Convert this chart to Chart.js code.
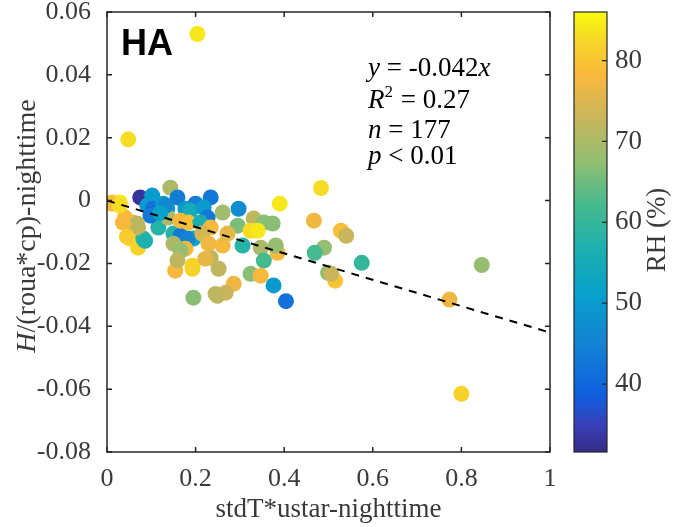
<!DOCTYPE html>
<html>
<head>
<meta charset="utf-8">
<script src="https://cdn.jsdelivr.net/npm/chart.js@4/dist/chart.umd.min.js"></script>
<style>
  html, body { margin: 0; padding: 0; background: #fff; }
  #wrap { width: 674px; height: 527px; }
</style>
</head>
<body>
<div id="wrap"><canvas id="scatter"></canvas></div>
<script>
// values
var stdTUstar = [0.204,0.048,0.800,0.773,0.846,0.575,0.404,0.376,0.515,0.499,0.506,0.490,0.469,0.467,0.483,0.390,0.528,0.540,
  0.011,0.029,0.075,0.102,0.143,0.159,0.200,0.234,0.297,0.261,0.331,0.374,0.354,0.295,0.324,0.340,0.195,0.306,0.347,0.385,
  0.381,0.354,0.261,0.234,0.252,0.154,0.193,0.324,0.347,0.286,0.195,0.249,0.268,0.052,0.070,0.082,0.116,0.150,0.166,0.181,
  0.057,0.070,0.041,0.011,0.029,0.091,0.104,0.127,0.136,0.177,0.188,0.218,0.227,0.138,0.166,0.184,0.211,0.234,0.215,0.272,
  0.098,0.132,0.086,0.150,0.177,0.166,0.159,0.193,0.222,0.229,0.245,0.068,0.036,0.045,0.120];
var hNight = [0.053,0.0195,-0.0615,-0.0315,-0.0205,-0.0198,-0.032,-0.027,-0.0255,-0.023,-0.0233,-0.015,-0.0166,-0.0064,0.004,-0.001,-0.0096,-0.0112,
  -0.0006,-0.0006,0.001,0.0016,0.0041,0.001,-0.001,0.001,-0.0026,-0.0038,-0.0057,-0.0073,-0.007,-0.008,-0.0096,-0.0096,-0.0121,-0.0143,-0.015,-0.0166,
  -0.0143,-0.0191,-0.0143,-0.0182,-0.0217,-0.0223,-0.0207,-0.0233,-0.0239,-0.0265,-0.0309,-0.0303,-0.0293,-0.0121,-0.015,-0.0121,-0.0086,-0.0105,-0.0112,-0.0121,
  -0.007,-0.0086,-0.0054,-0.001,-0.0016,-0.0016,-0.0026,-0.001,-0.0026,-0.0026,-0.0032,-0.0022,-0.0054,-0.0054,-0.0064,-0.007,-0.007,-0.0086,-0.0105,-0.0105,
  -0.0048,-0.0016,-0.0128,-0.0137,-0.0153,-0.0159,-0.019,-0.0217,-0.0185,-0.0137,-0.0297,-0.0073,-0.007,-0.0115,-0.004];
var rhValues = [84,83,82,77,68,60,42,50,80,67,73,68,62,77,83,84,79,73,
  80,84,33,50,70,44,44,43,47,69,72,67,67,66,83,84,52,58,70,78,
  68,62,78,72,72,78,82,67,78,77,67,72,73,83,82,59,58,58,43,45,
  72,72,78,79,83,50,42,50,50,50,55,50,43,70,78,79,56,78,74,76,
  43,46,57,70,77,68,72,82,76,77,72,72,78,81,52];
var fitSlope = -0.042;
var fitX = [0, 1];
var xTicks = [0, 0.2, 0.4, 0.6, 0.8, 1];
var yTicks = [-0.08, -0.06, -0.04, -0.02, 0, 0.02, 0.04, 0.06];
var rhTicks = [40, 50, 60, 70, 80];
var rhMin = 31.6, rhMax = 86;
var statLines = [
  [["y", true], [" = -0.042", false], ["x", true]],
  [["R", true], ["2", false, true], [" = 0.27", false]],
  [["n", true], [" = 177", false]],
  [["p", true], [" < 0.01", false]]
];

// parula-like colour map
var cmap = [[0,'#352a87'],[0.06,'#3a3fb8'],[0.13,'#0f5fe0'],[0.25,'#1484d4'],[0.36,'#07a0cc'],
  [0.46,'#1cb0b0'],[0.56,'#45ba8e'],[0.66,'#92be72'],[0.76,'#c8b65c'],[0.86,'#fbb93b'],[0.93,'#f6d42a'],[1,'#f9fb0e']];
function hex2rgb(h) { return [parseInt(h.substr(1,2),16), parseInt(h.substr(3,2),16), parseInt(h.substr(5,2),16)]; }
function rhColor(v) {
  var t = Math.max(0, Math.min(1, (v - rhMin) / (rhMax - rhMin)));
  for (var i = 1; i < cmap.length; i++) {
    if (t <= cmap[i][0]) {
      var a = hex2rgb(cmap[i-1][1]), b = hex2rgb(cmap[i][1]);
      var f = (t - cmap[i-1][0]) / (cmap[i][0] - cmap[i-1][0]);
      return 'rgb(' + Math.round(a[0]+(b[0]-a[0])*f) + ',' + Math.round(a[1]+(b[1]-a[1])*f) + ',' + Math.round(a[2]+(b[2]-a[2])*f) + ')';
    }
  }
  return cmap[cmap.length-1][1];
}

var pts = stdTUstar.map(function(x, i) { return {x: x, y: hNight[i]}; });
var fitPts = fitX.map(function(x) { return {x: x, y: fitSlope * x}; });

var serif = '"Liberation Serif", "Times New Roman", serif';
var tickColor = '#3a3a3a';

var decor = {
  id: 'decor',
  afterDraw: function(chart) {
    var ctx = chart.ctx, a = chart.chartArea;
    var xs = chart.scales.x, ys = chart.scales.y, rs = chart.scales.rh;
    ctx.save();
    // box and inward ticks
    ctx.strokeStyle = '#262626';
    ctx.lineWidth = 1.5;
    ctx.strokeRect(a.left, a.top, a.right - a.left, a.bottom - a.top);
    ctx.beginPath();
    xTicks.forEach(function(v) {
      var px = xs.getPixelForValue(v);
      ctx.moveTo(px, a.bottom); ctx.lineTo(px, a.bottom - 5);
      ctx.moveTo(px, a.top); ctx.lineTo(px, a.top + 5);
    });
    yTicks.forEach(function(v) {
      var py = ys.getPixelForValue(v);
      ctx.moveTo(a.left, py); ctx.lineTo(a.left + 5, py);
      ctx.moveTo(a.right, py); ctx.lineTo(a.right - 5, py);
    });
    ctx.stroke();

    // y title with italic H
    ctx.save();
    ctx.translate(28, (a.top + a.bottom) / 2 - 6);
    ctx.rotate(-Math.PI / 2);
    ctx.fillStyle = tickColor;
    ctx.textBaseline = 'middle';
    var f1 = 'italic 28px ' + serif, f2 = '28px ' + serif;
    ctx.font = f1; var w1 = ctx.measureText('H').width;
    ctx.font = f2; var w2 = ctx.measureText('/(roua*cp)-nighttime').width;
    var sx = -(w1 + w2) / 2;
    ctx.font = f1; ctx.fillText('H', sx, 0);
    ctx.font = f2; ctx.fillText('/(roua*cp)-nighttime', sx + w1, 0);
    ctx.restore();

    // HA label
    ctx.fillStyle = '#000';
    ctx.font = 'bold 36px "Liberation Sans", Arial, sans-serif';
    ctx.textBaseline = 'alphabetic';
    ctx.fillText('HA', 121, 55);

    // statistics
    var base = [76, 108, 138, 164];
    statLines.forEach(function(line, li) {
      var x = 368;
      line.forEach(function(seg) {
        ctx.font = (seg[1] ? 'italic ' : '') + (seg[2] ? '17px ' : '27px ') + serif;
        ctx.fillText(seg[0], x, base[li] - (seg[2] ? 11 : 0));
        x += ctx.measureText(seg[0]).width + (seg[2] ? 1 : 0);
      });
    });

    // colour bar, driven by the hidden rh scale
    var cbL = 574, cbR = 607;
    var top = rs.getPixelForValue(rhMax), bot = rs.getPixelForValue(rhMin);
    var g = ctx.createLinearGradient(0, bot, 0, top);
    cmap.forEach(function(s) { g.addColorStop(s[0], s[1]); });
    ctx.fillStyle = g;
    ctx.fillRect(cbL, top, cbR - cbL, bot - top);
    ctx.strokeStyle = '#262626';
    ctx.lineWidth = 1.2;
    ctx.strokeRect(cbL, top, cbR - cbL, bot - top);
    ctx.beginPath();
    rhTicks.forEach(function(v) {
      var py = rs.getPixelForValue(v);
      ctx.moveTo(cbR, py); ctx.lineTo(cbR - 5, py);
    });
    ctx.stroke();
    ctx.fillStyle = tickColor;
    ctx.font = '27px ' + serif;
    ctx.textBaseline = 'middle';
    rhTicks.forEach(function(v) {
      ctx.fillText(String(v), 615, rs.getPixelForValue(v));
    });
    ctx.save();
    ctx.translate(658, 230);
    ctx.rotate(-Math.PI / 2);
    ctx.textAlign = 'center';
    ctx.font = '27px ' + serif;
    ctx.fillText('RH (%)', 0, 0);
    ctx.restore();
    ctx.restore();
  }
};

new Chart(document.getElementById('scatter'), {
  type: 'scatter',
  data: {
    datasets: [
      {
        label: 'fit',
        type: 'line',
        data: fitPts,
        borderColor: '#000',
        borderWidth: 2,
        borderDash: [8, 7],
        pointRadius: 0,
        fill: false,
        order: 0
      },
      {
        label: 'nighttime',
        data: pts,
        pointRadius: 8,
        pointHoverRadius: 8,
        pointBorderWidth: 0,
        pointBackgroundColor: rhValues.map(rhColor),
        pointBorderColor: 'rgba(0,0,0,0)',
        order: 1
      }
    ]
  },
  options: {
    responsive: true,
    maintainAspectRatio: false,
    animation: false,
    events: [],
    layout: { padding: { left: 0, right: 124, top: 12, bottom: 0 } },
    plugins: { legend: { display: false }, tooltip: { enabled: false } },
    scales: {
      x: {
        type: 'linear', min: 0, max: 1,
        grid: { display: false },
        border: { display: false },
        afterFit: function(s) { s.height = 75; s.paddingLeft = 0; s.paddingRight = 0; },
        afterBuildTicks: function(s) { s.ticks = xTicks.map(function(v) { return {value: v}; }); },
        ticks: {
          padding: 4, color: tickColor, font: { family: serif, size: 26 },
          callback: function(v) { return v === 0 || v === 1 ? String(v) : v.toFixed(1); }
        },
        title: { display: true, text: 'stdT*ustar-nighttime', color: tickColor, font: { family: serif, size: 27 }, padding: { top: 0, bottom: 1 } }
      },
      y: {
        type: 'linear', min: -0.08, max: 0.06,
        grid: { display: false },
        border: { display: false },
        afterFit: function(s) { s.width = 107; s.paddingTop = 0; s.paddingBottom = 0; },
        afterBuildTicks: function(s) { s.ticks = yTicks.map(function(v) { return {value: v}; }); },
        ticks: {
          padding: 8, color: tickColor, font: { family: serif, size: 26 },
          callback: function(v) { return Math.abs(v) < 1e-9 ? '0' : v.toFixed(2); }
        }
      },
      rh: {
        type: 'linear', position: 'right', display: false, min: rhMin, max: rhMax
      }
    }
  },
  plugins: [decor]
});
</script>
</body>
</html>
